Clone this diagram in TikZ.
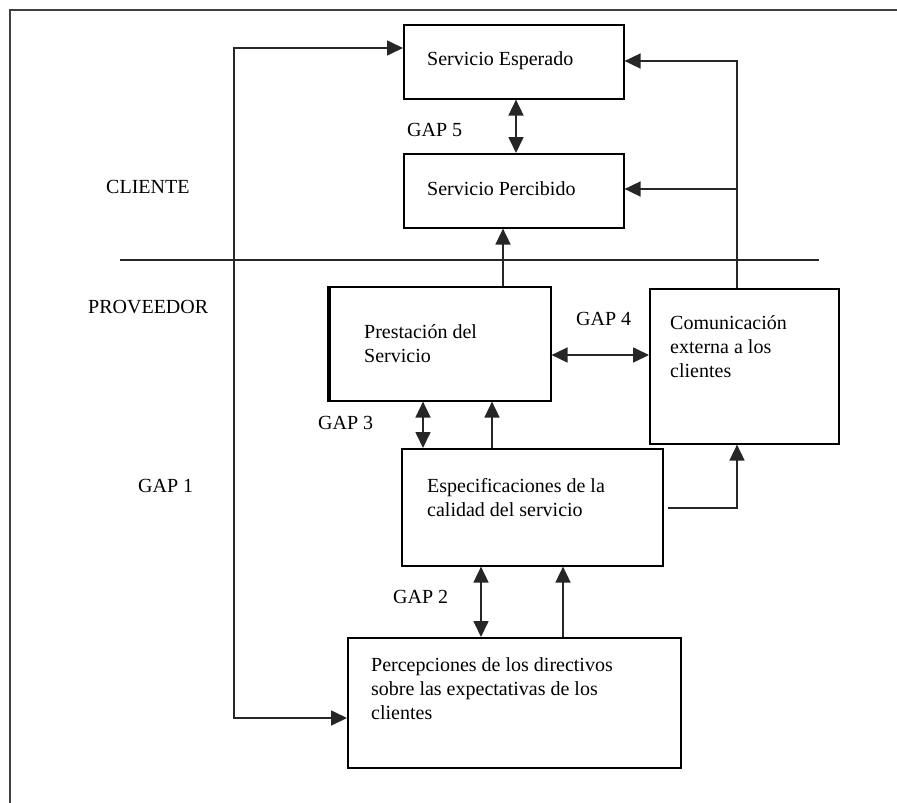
\documentclass[tikz,border=0pt]{standalone}
\usepackage{fontspec}
\setmainfont{Liberation Serif}
\usetikzlibrary{arrows.meta}

\begin{document}
\begin{tikzpicture}[x=1pt,y=-1pt,
  box/.style={draw=black,line width=1.6pt,inner sep=0pt,anchor=north west},
  txt/.style={inner sep=0pt,anchor=base west,font=\fontsize{20}{24}\selectfont},
  conn/.style={line width=1.7pt,draw=black!85},
  tip/.style={},
  arr/.style={conn,-{Triangle[length=16pt,width=15pt]}},
  dbl/.style={conn,{Triangle[length=16pt,width=15pt]}-{Triangle[length=16pt,width=15pt]}},
  frame/.style={line width=2.2pt,draw=black!75}]

\useasboundingbox (0,0) rectangle (897,803);

% outer frame (top and left edges)
\draw[frame] (10,803) -- (10,10) -- (897,10);

% client / provider divider
\draw[conn] (120,260) -- (819,260);

% boxes
\node[box,minimum width=220pt,minimum height=74pt] (esp) at (403,24) {};
\node[box,minimum width=220pt,minimum height=74pt] (perc) at (403,153) {};
\node[box,minimum width=221pt,minimum height=114pt] (prest) at (329,286) {};
\draw[line width=3.2pt] (prest.north west) -- (prest.south west);
\node[box,minimum width=189pt,minimum height=155pt] (com) at (649,288) {};
\node[box,minimum width=261pt,minimum height=117pt] (espec) at (401,448) {};
\node[box,minimum width=333pt,minimum height=130pt] (percep) at (347,637) {};

% box texts (multi-line nodes are placed by the baseline of their last line)
\node[txt] (esp-t) at (427,65) {Servicio Esperado};
\node[txt] (perc-t) at (427,195) {Servicio Percibido};
\node[txt,align=left] (prest-t) at (364,362) {Prestación del\\Servicio};
\node[txt,align=left] (com-t) at (670,377) {Comunicación\\externa a los\\clientes};
\node[txt,align=left] (espec-t) at (427,516) {Especificaciones de la\\calidad del servicio};
\node[txt,align=left] (percep-t) at (371,719) {Percepciones de los directivos\\sobre las expectativas de los\\clientes};

% side and gap labels
\node[txt] (cliente) at (106,193) {CLIENTE};
\node[txt] (proveedor) at (88,313) {PROVEEDOR};
\node[txt] (gap1) at (138,492) {GAP 1};
\node[txt] (gap2) at (393,603) {GAP 2};
\node[txt] (gap3) at (318,429) {GAP 3};
\node[txt] (gap4) at (576,325) {GAP 4};
\node[txt] (gap5) at (407,136) {GAP 5};

% routing coordinates
\coordinate (l1) at (234,48);
\coordinate (l2) at (234,718);
\coordinate (r1) at (737,61);
\coordinate (r2) at (737,189);
\coordinate (r3) at (737,508);
\coordinate (x5) at (516,0);
\coordinate (xp) at (503,0);
\coordinate (g4) at (600,355);
\coordinate (x3) at (423,0);
\coordinate (xe) at (492,0);
\coordinate (x2) at (481,0);
\coordinate (xd) at (563,0);

% GAP 1 loop
\draw[dbl] (l1 -| esp.west) -- (l1) -- (l2) -- (l2 -| percep.west);

% external communication feeds the client side
\draw[arr] (r1 |- com.north) -- (r1) -- (r1 -| esp.east);
\draw[arr] (r2) -- (r2 -| perc.east);

% GAP 5
\draw[dbl] (x5 |- esp.south) -- (x5 |- perc.north);

% delivery to perceived service
\draw[arr] (xp |- prest.north) -- (xp |- perc.south);

% GAP 4
\draw[dbl] (g4 -| prest.east) -- (g4 -| com.west);

% GAP 3
\draw[dbl] (x3 |- prest.south) -- (x3 |- espec.north);
\draw[arr] (xe |- espec.north) -- (xe |- prest.south);

% specifications to communication
\draw[arr] ([xshift=4pt]espec.east |- r3) -- (r3) -- (r3 |- com.south);

% GAP 2
\draw[dbl] (x2 |- espec.south) -- (x2 |- percep.north);
\draw[arr] (xd |- percep.north) -- (xd |- espec.south);

\end{tikzpicture}
\end{document}
